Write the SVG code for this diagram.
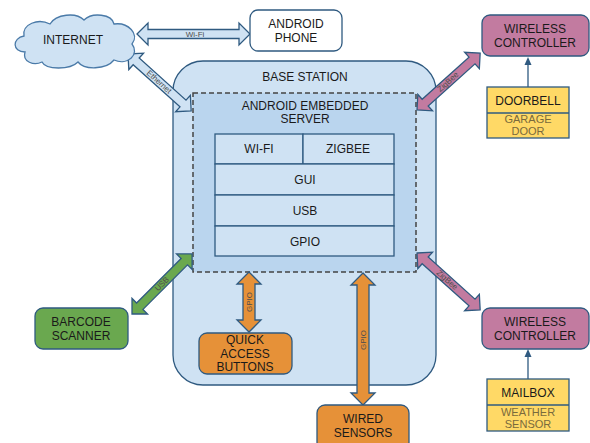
<svg xmlns="http://www.w3.org/2000/svg" width="590" height="443" viewBox="0 0 590 443">
<style>
.t{font-family:"Liberation Sans",Arial,sans-serif;font-size:12px;fill:#1a1a1a;text-anchor:middle}
.s{font-family:"Liberation Sans",Arial,sans-serif;font-size:11px;fill:#7a6a3c;text-anchor:middle}
.a{font-family:"Liberation Sans",Arial,sans-serif;font-size:8px;fill:#4d4d4d;text-anchor:middle;dominant-baseline:central}
.ln{stroke:#2f5a80;stroke-width:1.3}
.blue{fill:#cfe2f3}
.pink{fill:#c27ba0}
.orange{fill:#e69138}
.green{fill:#6aa84f}
.yellow{fill:#ffd966}
</style>
<defs>
<marker id="ah" markerWidth="8" markerHeight="8" refX="4" refY="4" orient="auto" markerUnits="userSpaceOnUse">
<path d="M0,0.5 L8,4 L0,7.5 Z" fill="#2f5a80"/>
</marker>
<path id="arr85" d="M0,0 L11,-11 L11,-4.5 L74,-4.5 L74,-11 L85,0 L74,11 L74,4.5 L11,4.5 L11,11 Z"/>
</defs>

<g id="base-station">
<rect x="173" y="61" width="263" height="324" rx="30" class="blue ln"/>
<text class="t" x="305" y="81">BASE STATION</text>
</g>

<g id="android-server">
<rect x="193" y="93" width="223" height="179" fill="#bad5ee" stroke="#444" stroke-width="1.5" stroke-dasharray="5,3"/>
<text class="t" x="305" y="110">ANDROID EMBEDDED</text>
<text class="t" x="305" y="123">SERVER</text>
<g class="blue ln">
<rect x="215" y="134" width="88" height="30"/>
<rect x="303" y="134" width="91" height="30"/>
<rect x="215" y="164" width="179" height="31"/>
<rect x="215" y="195" width="179" height="31"/>
<rect x="215" y="226" width="179" height="30"/>
</g>
<text class="t" x="259" y="153">WI-FI</text>
<text class="t" x="348" y="153">ZIGBEE</text>
<text class="t" x="305" y="184">GUI</text>
<text class="t" x="305" y="215">USB</text>
<text class="t" x="305" y="246">GPIO</text>
</g>

<g id="connectors">
<path class="blue ln" d="M0,0 L11,-11 L11,-4.5 L102,-4.5 L102,-11 L113,0 L102,11 L102,4.5 L11,4.5 L11,11 Z" transform="translate(137,34)"/>
<text class="a" x="195" y="34">Wi-Fi</text>
<use href="#arr85" class="blue ln" transform="translate(128,54) rotate(42)"/>
<text class="a" transform="translate(159,82) rotate(42)">Ethernet</text>
<use href="#arr85" class="pink ln" transform="translate(417,110) rotate(-42)"/>
<text class="a" transform="translate(448,82) rotate(-42)">ZigBee</text>
<use href="#arr85" class="pink ln" transform="translate(417,253) rotate(42)"/>
<text class="a" transform="translate(447,280) rotate(42)">ZigBee</text>
<use href="#arr85" class="green ln" transform="translate(132,314) rotate(-45)"/>
<text class="a" transform="translate(162,284) rotate(-45)">USB</text>
<path class="orange ln" d="M0,0 L12,-12 L12,-6 L48,-6 L48,-12 L60,0 L48,12 L48,6 L12,6 L12,12 Z" transform="translate(249,272) rotate(90)"/>
<text class="a" transform="translate(249,302) rotate(-90)">GPIO</text>
<path class="orange ln" d="M0,0 L12,-12 L12,-6 L120,-6 L120,-12 L132,0 L120,12 L120,6 L12,6 L12,12 Z" transform="translate(363,273) rotate(90)"/>
<text class="a" transform="translate(363,340) rotate(-90)">GPIO</text>
<line x1="528" y1="87" x2="528" y2="61" class="ln" marker-end="url(#ah)"/>
<line x1="528" y1="379" x2="528" y2="353" class="ln" marker-end="url(#ah)"/>
</g>

<g id="internet">
<path class="blue" stroke="#4a7aa8" stroke-width="1.3" d="M25,52 C12,52 12,38 24,36 C22,24 38,18 50,24 C56,14 76,12 84,20 C92,12 112,14 114,24 C128,22 140,34 132,44 C140,54 128,66 114,60 C106,70 84,70 78,62 C70,70 46,70 42,62 C34,66 22,62 25,52 Z"/>
<text class="t" x="73" y="44">INTERNET</text>
</g>

<g id="android-phone">
<rect x="250" y="10" width="92" height="41" rx="8" fill="#fff" class="ln"/>
<text class="t" x="296" y="28">ANDROID</text>
<text class="t" x="296" y="42">PHONE</text>
</g>

<g id="wireless-controller-1">
<rect x="482" y="15" width="107" height="41" rx="8" class="pink ln"/>
<text class="t" x="535" y="33">WIRELESS</text>
<text class="t" x="535" y="47">CONTROLLER</text>
</g>

<g id="doorbell">
<rect x="487" y="87" width="82" height="51" class="yellow ln"/>
<line x1="487" y1="113" x2="569" y2="113" class="ln"/>
<text class="t" x="528" y="105">DOORBELL</text>
<text class="s" x="528" y="123">GARAGE</text>
<text class="s" x="528" y="135">DOOR</text>
</g>

<g id="wireless-controller-2">
<rect x="482" y="308" width="107" height="41" rx="8" class="pink ln"/>
<text class="t" x="535" y="326">WIRELESS</text>
<text class="t" x="535" y="340">CONTROLLER</text>
</g>

<g id="mailbox">
<rect x="487" y="379" width="82" height="52" class="yellow ln"/>
<line x1="487" y1="405" x2="569" y2="405" class="ln"/>
<text class="t" x="528" y="397">MAILBOX</text>
<text class="s" x="528" y="416">WEATHER</text>
<text class="s" x="528" y="428">SENSOR</text>
</g>

<g id="barcode-scanner">
<rect x="35" y="308" width="93" height="41" rx="8" class="green ln"/>
<text class="t" x="81" y="326">BARCODE</text>
<text class="t" x="81" y="340">SCANNER</text>
</g>

<g id="quick-access-buttons">
<rect x="199" y="333" width="93" height="41" rx="8" class="orange ln"/>
<text class="t" x="245" y="344">QUICK</text>
<text class="t" x="245" y="358">ACCESS</text>
<text class="t" x="245" y="371">BUTTONS</text>
</g>

<g id="wired-sensors">
<rect x="317" y="405" width="92" height="45" rx="8" class="orange ln"/>
<text class="t" x="363" y="423">WIRED</text>
<text class="t" x="363" y="437">SENSORS</text>
</g>
</svg>
